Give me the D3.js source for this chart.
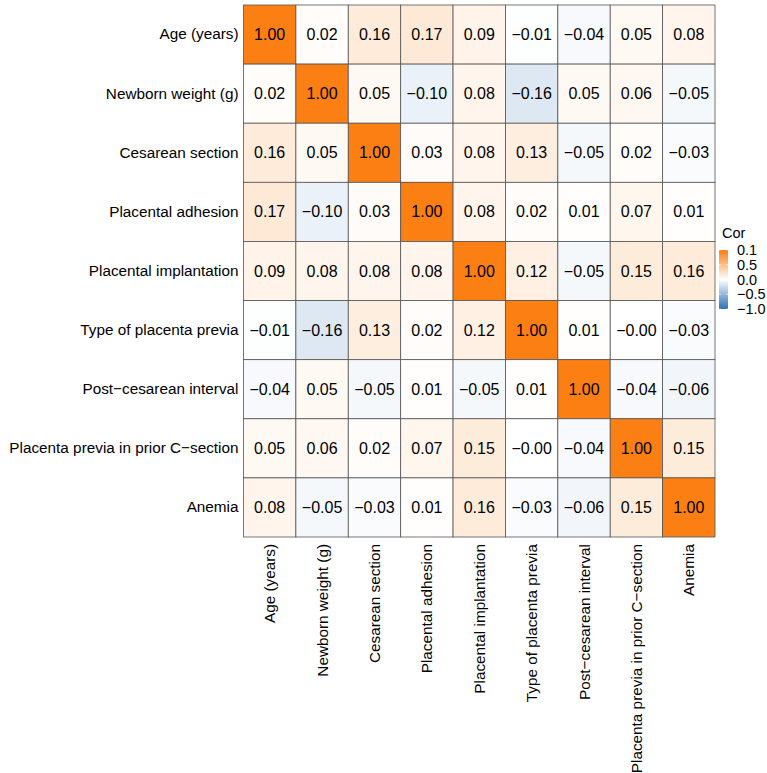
<!DOCTYPE html>
<html>
<head>
<meta charset="utf-8">
<script src="https://cdn.jsdelivr.net/npm/d3@7"></script>
<style>
  html, body { margin: 0; padding: 0; background: #fff; }
  svg { display: block; font-family: "Liberation Sans", Arial, sans-serif; }
</style>
</head>
<body>
<svg id="chart" width="767" height="773"></svg>
<script>
// Variables, in display order (rows top to bottom, columns left to right)
const variables = [
  "Age (years)",
  "Newborn weight (g)",
  "Cesarean section",
  "Placental adhesion",
  "Placental implantation",
  "Type of placenta previa",
  "Post\u2212cesarean interval",
  "Placenta previa in prior C\u2212section",
  "Anemia"
];

// Correlation matrix, one row per variable
const corrAge        = [1.00, 0.02, 0.16, 0.17, 0.09, -0.01, -0.04, 0.05, 0.08];
const corrNewborn    = [0.02, 1.00, 0.05, -0.10, 0.08, -0.16, 0.05, 0.06, -0.05];
const corrCesarean   = [0.16, 0.05, 1.00, 0.03, 0.08, 0.13, -0.05, 0.02, -0.03];
const corrAdhesion   = [0.17, -0.10, 0.03, 1.00, 0.08, 0.02, 0.01, 0.07, 0.01];
const corrImplant    = [0.09, 0.08, 0.08, 0.08, 1.00, 0.12, -0.05, 0.15, 0.16];
const corrType       = [-0.01, -0.16, 0.13, 0.02, 0.12, 1.00, 0.01, -0, -0.03];
const corrInterval   = [-0.04, 0.05, -0.05, 0.01, -0.05, 0.01, 1.00, -0.04, -0.06];
const corrPriorCS    = [0.05, 0.06, 0.02, 0.07, 0.15, -0, -0.04, 1.00, 0.15];
const corrAnemia     = [0.08, -0.05, -0.03, 0.01, 0.16, -0.03, -0.06, 0.15, 1.00];

const corrRows = [corrAge, corrNewborn, corrCesarean, corrAdhesion, corrImplant,
                  corrType, corrInterval, corrPriorCS, corrAnemia];

// Legend
const legendTitle = "Cor";
const legendTickValues = [1.0, 0.5, 0.0, -0.5, -1.0];
const legendTickLabels = ["0.1", "0.5", "0.0", "\u22120.5", "\u22121.0"];

const svg = d3.select("#chart");
const FONT = "'Liberation Sans', Arial, sans-serif";

const grid = { left: 243.5, top: 5, right: 715, bottom: 537 };

const x = d3.scaleBand().domain(variables).range([grid.left, grid.right]).padding(0);
const y = d3.scaleBand().domain(variables).range([grid.top, grid.bottom]).padding(0);

const color = d3.scaleLinear()
  .domain([-1, 0, 1])
  .range(["#2c70b6", "#ffffff", "#fb7f12"])
  .interpolate(d3.interpolateRgb);

const fmt = v => {
  const neg = v < 0 || Object.is(v, -0);
  return (neg ? "\u2212" : "") + Math.abs(v).toFixed(2);
};

const cells = [];
corrRows.forEach((row, i) => {
  row.forEach((v, j) => cells.push({ row: variables[i], col: variables[j], value: v }));
});

const g = svg.append("g");

g.selectAll("rect.cell")
  .data(cells)
  .join("rect")
  .attr("class", "cell")
  .attr("x", d => x(d.col))
  .attr("y", d => y(d.row))
  .attr("width", x.bandwidth())
  .attr("height", y.bandwidth())
  .attr("fill", d => color(d.value))
  .attr("stroke", "#555555")
  .attr("stroke-width", 0.8);

g.selectAll("text.val")
  .data(cells)
  .join("text")
  .attr("class", "val")
  .attr("x", d => x(d.col) + x.bandwidth() / 2)
  .attr("y", d => y(d.row) + y.bandwidth() / 2)
  .attr("text-anchor", "middle")
  .attr("dominant-baseline", "central")
  .attr("font-size", 16)
  .attr("fill", "#000")
  .text(d => fmt(d.value));

// Row labels (left axis)
const yAxis = d3.axisLeft(y).tickSize(0).tickPadding(5);
const yg = svg.append("g").attr("transform", `translate(${grid.left},0)`).call(yAxis);
yg.select(".domain").remove();
yg.selectAll("text").attr("font-size", 15.3).attr("fill", "#000").attr("font-family", FONT);

// Column labels (bottom axis, rotated)
const xAxis = d3.axisBottom(x).tickSize(0).tickPadding(0);
const xg = svg.append("g").attr("transform", `translate(0,${grid.bottom})`).call(xAxis);
xg.select(".domain").remove();
xg.selectAll("text")
  .attr("font-size", 15.3).attr("fill", "#000")
  .attr("font-family", FONT)
  .attr("text-anchor", "end")
  .attr("dy", null)
  .attr("dominant-baseline", "central")
  .attr("transform", "translate(0,7) rotate(-90)")
  .attr("x", 0).attr("y", 0);

// Colour bar legend
const lg = { x: 719, top: 250, bottom: 309, width: 9 };
const ly = d3.scaleLinear().domain([-1, 1]).range([lg.bottom, lg.top]);

const defs = svg.append("defs");
const grad = defs.append("linearGradient")
  .attr("id", "corGrad").attr("x1", 0).attr("y1", 1).attr("x2", 0).attr("y2", 0);
d3.range(0, 1.0001, 0.05).forEach(t => {
  grad.append("stop").attr("offset", t).attr("stop-color", color(-1 + 2 * t));
});

svg.append("text")
  .attr("x", lg.x + 3).attr("y", 238)
  .attr("font-size", 14.5).attr("fill", "#000")
  .text(legendTitle);

svg.append("rect")
  .attr("x", lg.x).attr("y", lg.top)
  .attr("width", lg.width).attr("height", lg.bottom - lg.top)
  .attr("fill", "url(#corGrad)");

legendTickValues.forEach(v => {
  svg.append("line")
    .attr("x1", lg.x).attr("x2", lg.x + 2)
    .attr("y1", ly(v)).attr("y2", ly(v))
    .attr("stroke", "#fff").attr("stroke-width", 0.6);
  svg.append("line")
    .attr("x1", lg.x + lg.width - 2).attr("x2", lg.x + lg.width)
    .attr("y1", ly(v)).attr("y2", ly(v))
    .attr("stroke", "#fff").attr("stroke-width", 0.6);
});

svg.selectAll("text.ltick")
  .data(legendTickValues)
  .join("text")
  .attr("class", "ltick")
  .attr("x", lg.x + lg.width + 9)
  .attr("y", d => ly(d))
  .attr("dominant-baseline", "central")
  .attr("font-size", 14.5)
  .attr("fill", "#000")
  .text((d, i) => legendTickLabels[i]);
</script>
</body>
</html>
